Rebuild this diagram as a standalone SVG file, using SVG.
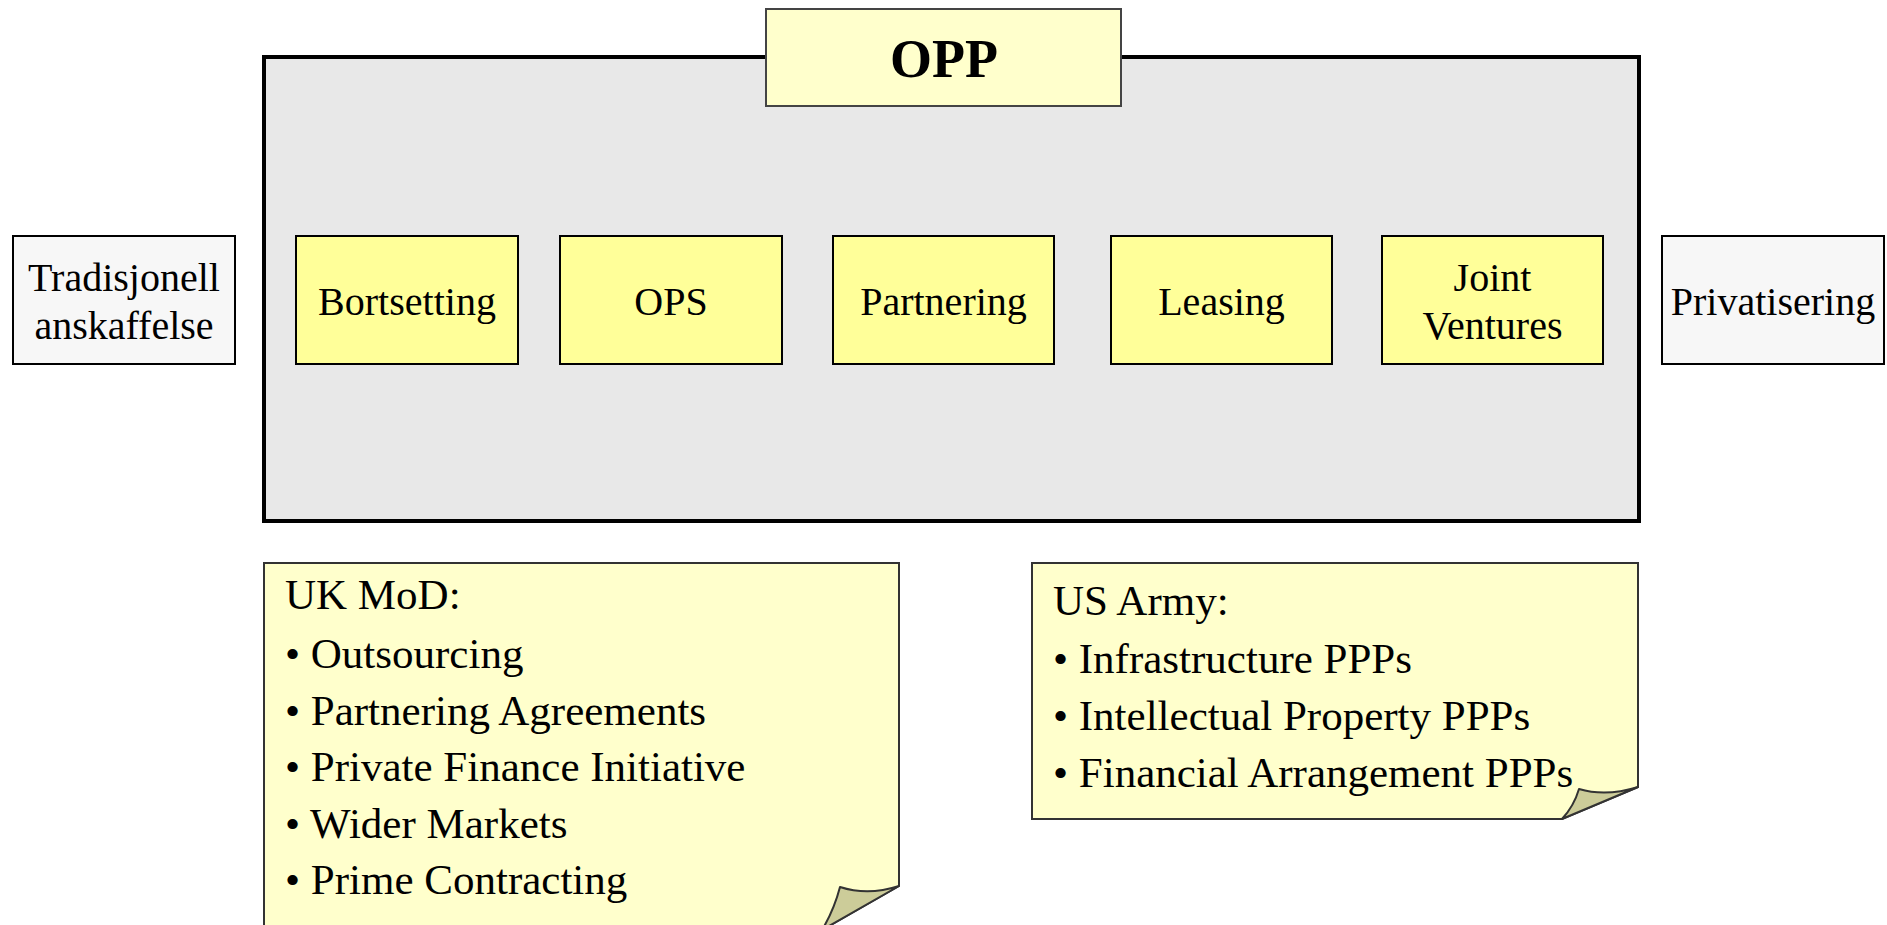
<svg xmlns="http://www.w3.org/2000/svg" width="1887" height="925" viewBox="0 0 1887 925">
<style>
text{font-family:"Liberation Serif","Times New Roman",serif;fill:#000}
.lbl{font-size:40px;text-anchor:middle}
.note{font-size:43px}
.box{fill:#ffff99;stroke:#000;stroke-width:2}
.side{fill:#f7f7f7;stroke:#000;stroke-width:2}
.nf{fill:#ffffcc;stroke:#333;stroke-width:2}
.flap{fill:#cccc99;stroke:#333;stroke-width:2;stroke-linejoin:round}
</style>
<rect width="1887" height="925" fill="#fff"/>
<g id="opp-container">
<rect x="264" y="57" width="1375" height="464" fill="#e8e8e8" stroke="#000" stroke-width="4"/>
</g>
<g id="opp-title">
<rect x="766" y="9" width="355" height="97" fill="#ffffcc" stroke="#444" stroke-width="2"/>
<text x="944" y="77" font-size="54" font-weight="bold" text-anchor="middle">OPP</text>
</g>
<g id="tradisjonell">
<rect class="side" x="13" y="236" width="222" height="128"/>
<text class="lbl" x="124" y="291">Tradisjonell</text>
<text class="lbl" x="124" y="339">anskaffelse</text>
</g>
<g id="bortsetting">
<rect class="box" x="296" y="236" width="222" height="128"/>
<text class="lbl" x="407" y="315">Bortsetting</text>
</g>
<g id="ops">
<rect class="box" x="560" y="236" width="222" height="128"/>
<text class="lbl" x="671" y="315">OPS</text>
</g>
<g id="partnering">
<rect class="box" x="833" y="236" width="221" height="128"/>
<text class="lbl" x="943.5" y="315">Partnering</text>
</g>
<g id="leasing">
<rect class="box" x="1111" y="236" width="221" height="128"/>
<text class="lbl" x="1221.5" y="315">Leasing</text>
</g>
<g id="joint-ventures">
<rect class="box" x="1382" y="236" width="221" height="128"/>
<text class="lbl" x="1492.5" y="291">Joint</text>
<text class="lbl" x="1492.5" y="339">Ventures</text>
</g>
<g id="privatisering">
<rect class="side" x="1662" y="236" width="222" height="128"/>
<text class="lbl" x="1773" y="315">Privatisering</text>
</g>
<g id="uk-mod-note">
<path class="nf" d="M264,563 H899 V886 L822,930 H264 Z"/>
<path class="flap" d="M899,886 Q868,896 840,887 Q834,910 822,930 Z"/>
<text class="note" x="285" y="609">UK MoD:</text>
<text class="note" x="285" y="668">• Outsourcing</text>
<text class="note" x="285" y="725">• Partnering Agreements</text>
<text class="note" x="285" y="781">• Private Finance Initiative</text>
<text class="note" x="285" y="838">• Wider Markets</text>
<text class="note" x="285" y="894">• Prime Contracting</text>
</g>
<g id="us-army-note">
<path class="nf" d="M1032,563 H1638 V787 L1562,819 H1032 Z"/>
<path class="flap" d="M1638,787 Q1606,797 1579,789 Q1574,806 1562,819 Z"/>
<text class="note" x="1053" y="615">US Army:</text>
<text class="note" x="1053" y="673">• Infrastructure PPPs</text>
<text class="note" x="1053" y="730">• Intellectual Property PPPs</text>
<text class="note" x="1053" y="787">• Financial Arrangement PPPs</text>
</g>
<g id="connectors"></g>
</svg>
